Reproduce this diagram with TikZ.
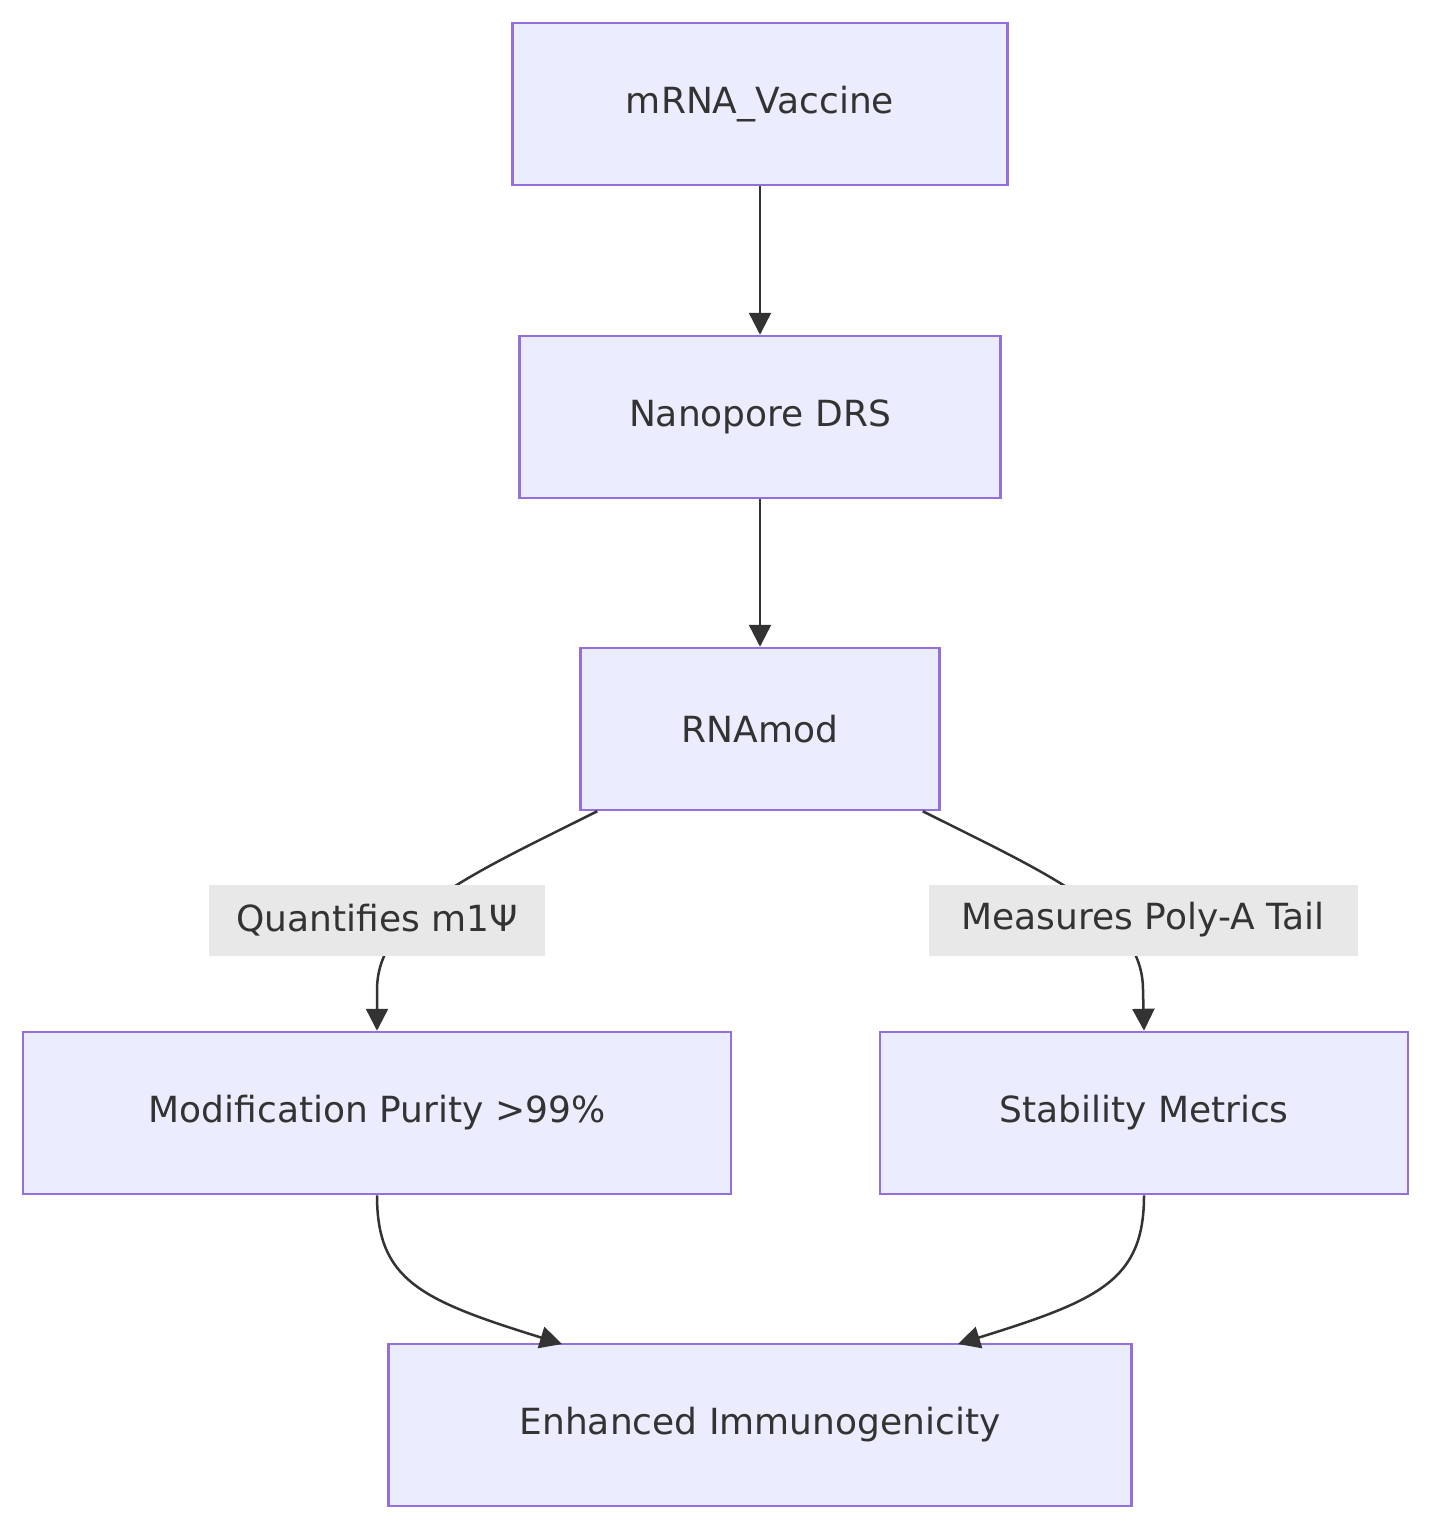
\documentclass[tikz,border=0pt]{standalone}
\usepackage{fontspec}
\setmainfont{DejaVu Sans}
\usetikzlibrary{arrows.meta}
\definecolor{nfill}{HTML}{ECECFF}
\definecolor{nline}{HTML}{9370DB}
\definecolor{ink}{HTML}{333333}
\definecolor{lbg}{HTML}{E8E8E8}
\begin{document}
\begin{tikzpicture}[x=1pt,y=-1pt,
  box/.style={draw=nline,fill=nfill,line width=2.5pt,text=ink,font=\fontsize{36}{40}\selectfont,minimum height=162pt,inner sep=0pt},
  lab/.style={fill=lbg,text=ink,font=\fontsize{36}{40}\selectfont,minimum height=71pt,inner sep=0pt},
  arr/.style={draw=ink,line width=2.5pt,-{Triangle[length=22pt,width=22pt]}}]
\useasboundingbox[fill=white] (0,0) rectangle (1432,1530);
\node[box,minimum width=495pt] (a) at (760,104) {mRNA\_Vaccine};
\node[box,minimum width=481pt] (b) at (760,417) {Nanopore DRS};
\node[box,minimum width=359pt] (c) at (760,729) {RNAmod};
\node[box,minimum width=708pt] (d) at (377,1113) {Modification Purity >99\%};
\node[box,minimum width=528pt] (e) at (1144,1113) {Stability Metrics};
\node[box,minimum width=743pt] (f) at (760,1425) {Enhanced Immunogenicity};
\draw[arr] (a) -- (b);
\draw[arr] (b) -- (c);
\draw[arr] (c.south west) ++(18,0) coordinate (c1) .. controls (470,875) and (377,915) .. (377,990) -- (d.north);
\draw[arr] (c.south east) ++(-18,0) coordinate (c2) .. controls (1050,875) and (1143,915) .. (1143,990) -- (e.north);
\node[lab,minimum width=336pt] (l1) at (377,920) {Quantifies m1Ψ};
\node[lab,minimum width=429pt] (l2) at (1143,920) {Measures Poly-A Tail};
\draw[arr] (d.south) .. controls (377,1280) and (420,1300) .. (562,1344);
\draw[arr] (e.south) .. controls (1144,1280) and (1100,1300) .. (958,1344);
\end{tikzpicture}
\end{document}
